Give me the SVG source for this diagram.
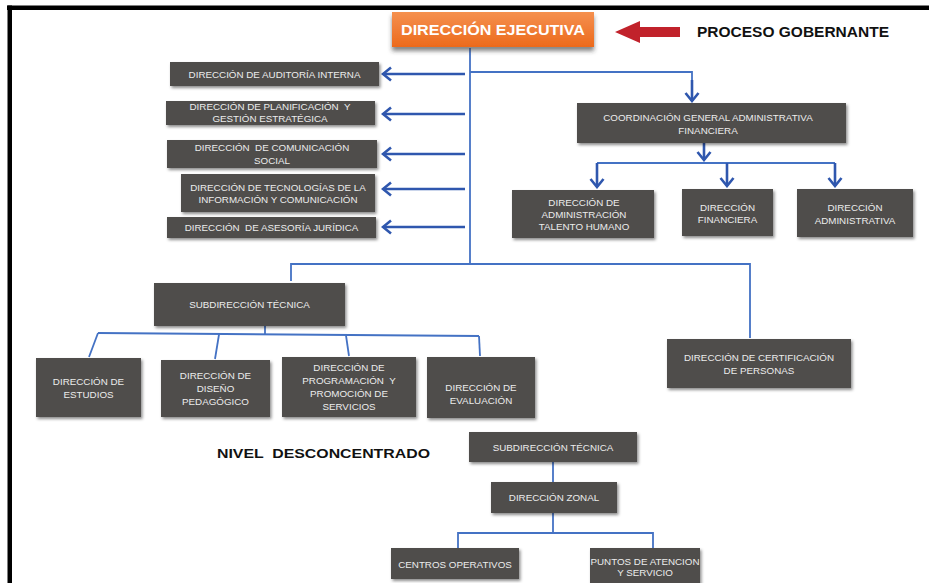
<svg xmlns="http://www.w3.org/2000/svg" width="929" height="583" viewBox="0 0 929 583">
<defs>
<style>
.box{fill:#504e4c;filter:url(#sh)}
.t{font-family:"Liberation Sans",Arial,sans-serif;font-size:9.8px;fill:#ececec;text-anchor:middle;white-space:pre}
.c{fill:none;stroke:#4472c4;stroke-width:1.8}
.a{fill:none;stroke:#2f57ae;stroke-width:2.6;marker-end:url(#ah)}
.b{font-family:"Liberation Sans",Arial,sans-serif;font-weight:bold;fill:#111;white-space:pre}
</style>
<filter id="sh" x="-10%" y="-20%" width="125%" height="150%">
<feDropShadow dx="1.5" dy="2" stdDeviation="1.4" flood-color="#000" flood-opacity="0.45"/>
</filter>
<filter id="sho" x="-10%" y="-20%" width="120%" height="160%">
<feDropShadow dx="0" dy="4" stdDeviation="2" flood-color="#333" flood-opacity="0.6"/>
</filter>
<linearGradient id="og" x1="0" y1="0" x2="0" y2="1">
<stop offset="0" stop-color="#f5904f"/>
<stop offset="1" stop-color="#ec6a1c"/>
</linearGradient>
<marker id="ah" viewBox="-11 -8 13 16" refX="0" refY="0" markerWidth="13" markerHeight="16" orient="auto" markerUnits="userSpaceOnUse">
<path d="M-8,-6.5 L0,0 L-8,6.5" fill="none" stroke="#2f57ae" stroke-width="2.6"/>
</marker>
</defs>
<rect width="929" height="583" fill="#fff"/>
<rect x="7" y="5.5" width="922" height="4.5" fill="#000"/>
<rect x="7.5" y="5.5" width="4.5" height="578" fill="#000"/>

<g id="connectors">
<path class="c" d="M470,48 V264"/>
<path class="c" d="M470,72 H692 V88"/>
<path class="a" d="M692,80 V101"/>
<path class="a" d="M465,74 H383"/>
<path class="a" d="M465,114 H383"/>
<path class="a" d="M465,154 H383"/>
<path class="a" d="M465,189 H383"/>
<path class="a" d="M465,227 H383"/>
<path class="a" d="M704,143 V160"/>
<path class="c" d="M597,163 H835"/>
<path class="a" d="M597,163 V187"/>
<path class="a" d="M727,163 V186"/>
<path class="a" d="M835,163 V186"/>
<path class="c" d="M291,281 V264 H750 V338"/>
<path class="c" d="M265,326 V335"/>
<path class="c" d="M98,333 L479,336"/>
<path class="c" d="M98,333 L89,357"/>
<path class="c" d="M219,334.5 L215,359"/>
<path class="c" d="M346,335.5 L349,356"/>
<path class="c" d="M479,336 L480,356"/>
<path class="c" d="M553,462 V482"/>
<path class="c" d="M553,513 V533"/>
<path class="c" d="M458,548 V533 H653 V548"/>
</g>

<g id="direccion-ejecutiva">
<rect x="392" y="12" width="202" height="35" fill="url(#og)" filter="url(#sho)"/>
<text x="493" y="35" font-family="Liberation Sans,Arial,sans-serif" font-weight="bold" font-size="15" fill="#fff" text-anchor="middle" textLength="184" lengthAdjust="spacingAndGlyphs">DIRECCIÓN EJECUTIVA</text>
</g>

<g id="proceso-gobernante">
<polygon points="615,32 640,21 640,27 680,27 680,37 640,37 640,43" fill="#c1222b"/>
<text class="b" x="697" y="37" font-size="14" textLength="192" lengthAdjust="spacingAndGlyphs">PROCESO GOBERNANTE</text>
</g>

<g id="auditoria"><rect class="box" x="170" y="62" width="209" height="24"/><text class="t" x="274.5" y="77.5">DIRECCIÓN DE AUDITORÍA INTERNA</text></g>
<g id="planificacion"><rect class="box" x="166" y="101" width="209" height="24"/><text class="t" x="270" y="110">DIRECCIÓN DE PLANIFICACIÓN  Y</text><text class="t" x="270" y="122">GESTIÓN ESTRATÉGICA</text></g>
<g id="comunicacion"><rect class="box" x="167" y="140" width="210" height="28"/><text class="t" x="272" y="150.5">DIRECCIÓN  DE COMUNICACIÓN</text><text class="t" x="272" y="163.5">SOCIAL</text></g>
<g id="tecnologias"><rect class="box" x="181" y="174" width="194" height="38"/><text class="t" x="278" y="190.5">DIRECCIÓN DE TECNOLOGÍAS DE LA</text><text class="t" x="278" y="202.5">INFORMACIÓN Y COMUNICACIÓN</text></g>
<g id="juridica"><rect class="box" x="167" y="217" width="209" height="21"/><text class="t" x="271.5" y="231">DIRECCIÓN  DE ASESORÍA JURÍDICA</text></g>

<g id="coordinacion"><rect class="box" x="577" y="103" width="269" height="40"/><text class="t" x="708" y="120.5">COORDINACIÓN GENERAL ADMINISTRATIVA</text><text class="t" x="708" y="133.5">FINANCIERA</text></g>
<g id="talento"><rect class="box" x="512" y="190" width="142" height="48"/><text class="t" x="584" y="205.5">DIRECCIÓN DE</text><text class="t" x="584" y="217.5">ADMINISTRACIÓN</text><text class="t" x="584" y="229.5">TALENTO HUMANO</text></g>
<g id="financiera"><rect class="box" x="682" y="189" width="91" height="47"/><text class="t" x="727.5" y="210.5">DIRECCIÓN</text><text class="t" x="727.5" y="222.5">FINANCIERA</text></g>
<g id="administrativa"><rect class="box" x="797" y="189" width="116" height="48"/><text class="t" x="855" y="210.5">DIRECCIÓN</text><text class="t" x="855" y="223.5">ADMINISTRATIVA</text></g>

<g id="subdireccion"><rect class="box" x="154" y="283" width="191" height="43"/><text class="t" x="249.5" y="308">SUBDIRECCIÓN TÉCNICA</text></g>
<g id="estudios"><rect class="box" x="36" y="358" width="105" height="59"/><text class="t" x="88.5" y="384.5">DIRECCIÓN DE</text><text class="t" x="88.5" y="398">ESTUDIOS</text></g>
<g id="diseno"><rect class="box" x="161" y="360" width="109" height="57"/><text class="t" x="215.5" y="378.5">DIRECCIÓN DE</text><text class="t" x="215.5" y="391.5">DISEÑO</text><text class="t" x="215.5" y="405">PEDAGÓGICO</text></g>
<g id="programacion"><rect class="box" x="282" y="357" width="134" height="60"/><text class="t" x="349" y="370.5">DIRECCIÓN DE</text><text class="t" x="349" y="383.5">PROGRAMACIÓN  Y</text><text class="t" x="349" y="396.5">PROMOCIÓN DE</text><text class="t" x="349" y="409.5">SERVICIOS</text></g>
<g id="evaluacion"><rect class="box" x="427" y="357" width="108" height="61"/><text class="t" x="481" y="391">DIRECCIÓN DE</text><text class="t" x="481" y="403.5">EVALUACIÓN</text></g>
<g id="certificacion"><rect class="box" x="667" y="339" width="184" height="49"/><text class="t" x="759" y="361">DIRECCIÓN DE CERTIFICACIÓN</text><text class="t" x="759" y="373.5">DE PERSONAS</text></g>

<g id="nivel-desconcentrado"><text class="b" x="217" y="458" font-size="12.5" textLength="213" lengthAdjust="spacingAndGlyphs">NIVEL  DESCONCENTRADO</text></g>
<g id="subdireccion-zonal"><rect class="box" x="469" y="432" width="168" height="30"/><text class="t" x="553" y="450.5">SUBDIRECCIÓN TÉCNICA</text></g>
<g id="direccion-zonal"><rect class="box" x="491" y="482" width="126" height="31"/><text class="t" x="554" y="501">DIRECCIÓN ZONAL</text></g>
<g id="centros"><rect class="box" x="391" y="548" width="128" height="31"/><text class="t" x="455" y="567.5" font-size="8.8">CENTROS OPERATIVOS</text></g>
<g id="puntos"><rect class="box" x="590" y="548" width="110" height="40"/><text class="t" x="645" y="564.5" font-size="8.4">PUNTOS DE ATENCION</text><text class="t" x="645" y="575.5" font-size="8.4">Y SERVICIO</text></g>
</svg>
